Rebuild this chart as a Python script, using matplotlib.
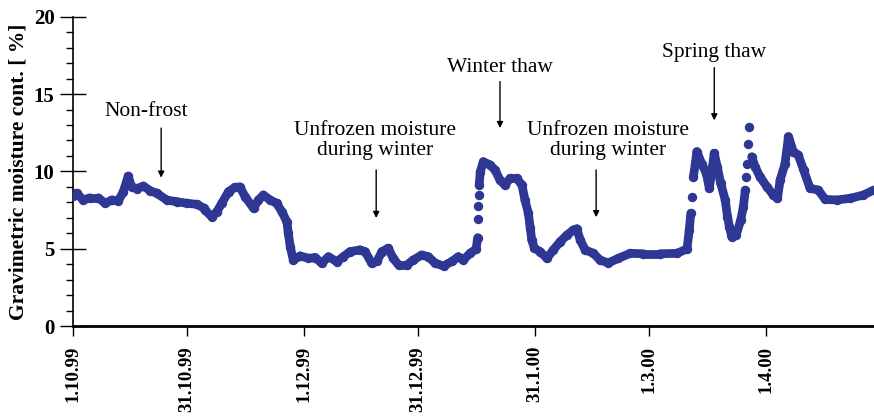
import numpy as np
import matplotlib
matplotlib.use("Agg")
import matplotlib.pyplot as plt
from matplotlib.collections import LineCollection

# dias contados a partir de 1.10.99 e umidade gravimétrica
days = [0.0, 0.9, 2.6, 4.4, 6.6, 8.4, 10.2, 11.9, 13.2, 14.5, 15.4, 16.8, 18.5,
        20.3, 22.0, 24.7, 27.3, 30.0, 32.6, 34.4, 34.8, 36.6, 37.9, 39.2, 41.0,
        42.7, 44.0, 45.4, 47.6, 48.9, 50.2, 52.0, 53.7, 55.1, 56.4, 56.8, 57.3,
        58.1, 59.9, 62.1, 63.9, 65.6, 67.4, 69.6, 71.3, 73.1, 75.7, 77.1, 78.8,
        80.2, 81.5, 83.2, 84.5, 85.9, 88.1, 89.8, 92.0, 93.8, 95.6, 97.8, 100.0,
        101.7, 103.0, 104.8, 106.4, 106.8, 106.9, 107.0, 107.05, 107.2, 107.5,
        108.3, 110.1, 111.4, 112.7, 114.0, 115.4, 117.1, 118.5, 119.3, 120.2,
        120.7, 121.1, 121.8, 123.3, 125.1, 126.8, 128.6, 130.4, 132.1, 133.0,
        133.9, 135.2, 137.4, 139.1, 141.3, 144.0, 147.1, 150.6, 155.0, 159.4,
        162.1, 162.7, 163.1, 163.4, 163.8, 164.3, 164.7, 166.0, 167.2, 168.0,
        168.7, 169.3, 170.1, 171.0, 172.2, 172.8, 173.3, 173.9, 175.1, 176.3,
        177.0, 177.5, 177.7, 177.9, 178.3, 178.6, 179.2, 180.1, 181.4, 183.2,
        184.9, 186.0, 186.7, 188.0, 188.9, 190.2, 191.5, 192.9, 194.6, 196.8,
        198.6, 201.7, 205.2, 208.7, 211.4]
moisture = [8.45, 8.6, 8.16, 8.3, 8.3, 7.95, 8.16, 8.1, 8.7, 9.7, 9.0, 8.9, 9.06,
            8.76, 8.6, 8.16, 8.05, 7.95, 7.88, 7.65, 7.5, 7.08, 7.4, 7.95, 8.7,
            8.98, 9.0, 8.37, 7.63, 8.16, 8.48, 8.16, 7.95, 7.4, 6.76, 6.0, 5.15,
            4.29, 4.55, 4.4, 4.45, 4.08, 4.5, 4.18, 4.5, 4.83, 4.94, 4.83, 4.08,
            4.2, 4.83, 5.05, 4.4, 3.97, 3.97, 4.29, 4.61, 4.5, 4.08, 3.9, 4.2,
            4.5, 4.29, 4.72, 5.0, 5.73, 6.92, 7.77, 8.48, 9.13, 9.99,
            10.63, 10.42, 10.1, 9.45, 9.13, 9.56, 9.56, 9.13, 8.16, 7.3,
            6.34, 5.58, 5.05, 4.83, 4.4, 4.94, 5.47, 5.9, 6.23, 6.3,
            5.58, 4.94, 4.72, 4.29, 4.1, 4.4, 4.72, 4.69, 4.69, 4.72,
            5.0, 6.23, 7.3, 8.37, 9.66, 10.5, 11.28, 10.5, 9.88, 8.92,
            10.1, 11.17, 10.3, 9.24, 8.16, 7.08, 6.44, 5.8, 5.9, 6.87,
            7.73, 8.8, 9.66, 10.5, 11.8, 12.9, 10.95, 10.3, 9.66, 9.02,
            8.48, 8.27, 9.45, 10.5, 12.25, 11.28, 11.06, 10.1, 8.92, 8.8,
            8.2, 8.16, 8.27, 8.48, 8.8]

tick_days = [0, 30, 61, 91, 122, 152, 183]
tick_labels = ["1.10.99", "31.10.99", "1.12.99", "31.12.99", "31.1.00", "1.3.00", "1.4.00"]

# anotações: texto, posição do texto, início e fim da seta
notes = [
    ("Non-frost", (19.2, 13.9), (23.2, 12.8), (23.2, 9.6)),
    ("Unfrozen moisture\nduring winter", (79.8, 12.0), (80.0, 10.1), (80.0, 7.0)),
    ("Winter thaw", (112.7, 16.7), (112.7, 15.8), (112.7, 12.8)),
    ("Unfrozen moisture\nduring winter", (141.2, 12.0), (138.1, 10.1), (138.1, 7.05)),
    ("Spring thaw", (169.3, 17.7), (169.3, 16.7), (169.3, 13.3)),
]

cor = "#2e3794"
serif = "Liberation Serif"

fig = plt.figure(figsize=(8.74, 4.19), dpi=100)
ax = fig.add_axes([0.0839, 0.2208, 0.9161, 0.7398])

x = np.array(days)
y = np.array(moisture)
# liga pontos vizinhos, menos onde a subida é brusca (lá aparecem os pontos soltos)
slope = np.abs(np.diff(y) / np.maximum(np.diff(x), 1e-3))
segs = [[(x[i], y[i]), (x[i + 1], y[i + 1])] for i in range(len(x) - 1) if slope[i] < 3]
ax.add_collection(LineCollection(segs, colors=cor, linewidths=6.3, capstyle="round",
                                 joinstyle="round", zorder=2))
ax.plot(x, y, "o", color=cor, markersize=6.8, markeredgewidth=0, zorder=3)

ax.set_xlim(0, 211.5)
ax.set_ylim(0, 20)
ax.set_xticks(tick_days)
ax.set_xticklabels(tick_labels, rotation=90, fontfamily=serif, fontweight="bold",
                   fontsize=13.5, va="top")
ax.set_yticks([0, 5, 10, 15, 20])
ax.set_yticks(np.arange(0, 21, 1), minor=True)
ax.set_yticklabels(["0", "5", "10", "15", "20"], fontfamily=serif,
                   fontweight="bold", fontsize=15)
ax.tick_params(axis="y", which="major", direction="inout", length=19, width=1, pad=4)
ax.tick_params(axis="y", which="minor", direction="out", length=5, width=1)
ax.tick_params(axis="x", which="major", direction="out", length=7, width=1, pad=7)
ax.spines["top"].set_visible(False)
ax.spines["right"].set_visible(False)
ax.spines["left"].set_linewidth(1.2)
ax.spines["bottom"].set_linewidth(2)
ax.set_ylabel("Gravimetric moisture cont. [ %]", fontfamily=serif,
              fontweight="bold", fontsize=15.5, labelpad=4)

for texto, pos, ini, fim in notes:
    ax.text(pos[0], pos[1], texto, ha="center", va="center", fontfamily=serif,
            fontsize=15.5, linespacing=1.1)
    ax.annotate("", xy=fim, xytext=ini,
                arrowprops=dict(arrowstyle="-|>", color="black", lw=1,
                                mutation_scale=9, shrinkA=0, shrinkB=0))

fig.savefig("out.png", dpi=100)
